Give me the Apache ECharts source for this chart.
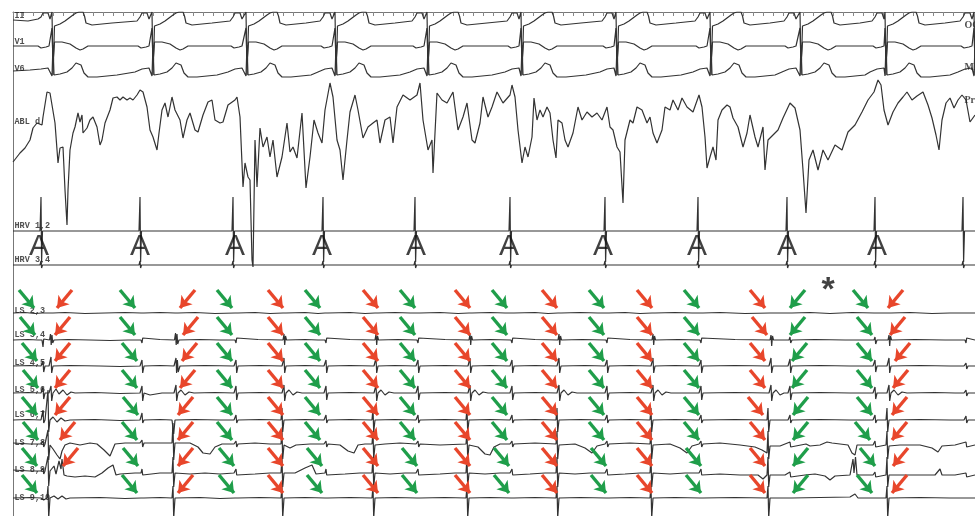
<!DOCTYPE html>
<html><head><meta charset="utf-8">
<script src="https://cdn.jsdelivr.net/npm/echarts@6/dist/echarts.min.js"></script>
<style>html,body{margin:0;padding:0;background:#fff}#c{width:975px;height:516px}</style>
</head><body><div id="c"></div>
<script>
// ---------- DATA (time, amplitude above channel baseline) ----------
const channelNames = ['II','V1','V6','ABL d','HRV 1,2','HRV 3,4','LS 2,3','LS 3,4','LS 4,5','LS 5,6','LS 6,7','LS 7,8','LS 8,9','LS 9,10'];
const rightNames = ['OC','MA','Prox'];
const atrialLabelTimes = [39,140,235,322,416,509,603,697,787,877];
const asteriskTime = [828];

const traceII = [
[13,0],[28,-1],[38,1],[41,3],[43,7],[48,7],[50,1],
[52,8],[53,-55],[54.5,-6],[60,-4],[65,-1],[69,2],[73,5],[76,7],[79,8],[83,8],[84.5,4],[86,-3],[92,-5],[112,-3],[137,-1],[140,3],[142,7],[147,7],[149,1],
[152,8],[153,-55],[154.5,-6],[160,-4],[165,-1],[169,2],[173,5],[176,7],[179,8],[183,8],[184.5,4],[186,-3],[192,-5],[212,-3],[230,-1],[233,3],[235,7],[240,7],[242,1],
[246,8],[247,-55],[248.5,-6],[254,-4],[259,-1],[263,2],[267,5],[270,7],[273,8],[277,8],[278.5,4],[280,-3],[286,-5],[306,-3],[320,-1],[323,3],[325,7],[330,7],[332,1],
[335,8],[336,-55],[337.5,-6],[343,-4],[348,-1],[352,2],[356,5],[359,7],[362,8],[366,8],[367.5,4],[369,-3],[375,-5],[395,-3],[412,-1],[415,3],[417,7],[422,7],[424,1],
[427,8],[428,-55],[429.5,-6],[435,-4],[440,-1],[444,2],[448,5],[451,7],[454,8],[458,8],[459.5,4],[461,-3],[467,-5],[487,-3],[507,-1],[510,3],[512,7],[517,7],[519,1],
[521,8],[522,-55],[523.5,-6],[529,-4],[534,-1],[538,2],[542,5],[545,7],[548,8],[552,8],[553.5,4],[555,-3],[561,-5],[581,-3],[602,-1],[605,3],[607,7],[612,7],[614,1],
[616,8],[617,-55],[618.5,-6],[624,-4],[629,-1],[633,2],[637,5],[640,7],[643,8],[647,8],[648.5,4],[650,-3],[656,-5],[676,-3],[695,-1],[698,3],[700,7],[705,7],[707,1],
[710,8],[711,-55],[712.5,-6],[718,-4],[723,-1],[727,2],[731,5],[734,7],[737,8],[741,8],[742.5,4],[744,-3],[750,-5],[770,-3],[784,-1],[787,3],[789,7],[794,7],[796,1],
[800,8],[801,-55],[802.5,-6],[808,-4],[813,-1],[817,2],[821,5],[824,7],[827,8],[831,8],[832.5,4],[834,-3],[840,-5],[860,-3],[872,-1],[875,3],[877,7],[882,7],[884,1],
[885,8],[886,-55],[887.5,-6],[893,-4],[898,-1],[902,2],[906,5],[909,7],[912,8],[916,8],[917.5,4],[919,-3],[925,-5],[945,-3],[960,-1],[963,3],[965,7],[970,7],[972,1],
[974,8],[975,-55]];

const traceV1 = [
[13,-1],[38,-1],[41,-3],[43,-5],[46,-2],[49,-1],
[52,17],[53,-18],[54.5,3],[62,3],[70,1],[76,-3],[80,-5],[83,-4],[88,-1],[102,-1],[138,-1],[141,-3],[143,-5],[146,-2],[149,-1],
[152,17],[153,-18],[154.5,3],[162,3],[170,1],[176,-3],[180,-5],[183,-4],[188,-1],[202,-1],[231,-1],[234,-3],[236,-5],[239,-2],[242,-1],
[246,17],[247,-18],[248.5,3],[256,3],[264,1],[270,-3],[274,-5],[277,-4],[282,-1],[296,-1],[321,-1],[324,-3],[326,-5],[329,-2],[332,-1],
[335,17],[336,-18],[337.5,3],[345,3],[353,1],[359,-3],[363,-5],[366,-4],[371,-1],[385,-1],[413,-1],[416,-3],[418,-5],[421,-2],[424,-1],
[427,17],[428,-18],[429.5,3],[437,3],[445,1],[451,-3],[455,-5],[458,-4],[463,-1],[477,-1],[508,-1],[511,-3],[513,-5],[516,-2],[519,-1],
[521,17],[522,-18],[523.5,3],[531,3],[539,1],[545,-3],[549,-5],[552,-4],[557,-1],[571,-1],[603,-1],[606,-3],[608,-5],[611,-2],[614,-1],
[616,17],[617,-18],[618.5,3],[626,3],[634,1],[640,-3],[644,-5],[647,-4],[652,-1],[666,-1],[696,-1],[699,-3],[701,-5],[704,-2],[707,-1],
[710,17],[711,-18],[712.5,3],[720,3],[728,1],[734,-3],[738,-5],[741,-4],[746,-1],[760,-1],[785,-1],[788,-3],[790,-5],[793,-2],[796,-1],
[800,17],[801,-18],[802.5,3],[810,3],[818,1],[824,-3],[828,-5],[831,-4],[836,-1],[850,-1],[873,-1],[876,-3],[878,-5],[881,-2],[884,-1],
[885,17],[886,-18],[887.5,3],[895,3],[903,1],[909,-3],[913,-5],[916,-4],[921,-1],[935,-1],[961,-1],[964,-3],[966,-5],[969,-2],[972,-1],
[974,17],[975,-18]];

const traceV6 = [
[13,-1],[30,0],[41,1],[48,2],
[52,-6],[53,25],[54,-5],[60,-4],[67,-2],[72,2],[76,7],[78,8],[81,5],[84,-3],[88,-7],[97,-7],[117,-5],[135,-2],[142,1],[149,2],
[152,-6],[153,25],[154,-5],[160,-4],[167,-2],[172,2],[176,7],[178,8],[181,5],[184,-3],[188,-7],[197,-7],[217,-5],[228,-2],[235,1],[242,2],
[246,-6],[247,25],[248,-5],[254,-4],[261,-2],[266,2],[270,7],[272,8],[275,5],[278,-3],[282,-7],[291,-7],[311,-5],[318,-2],[325,1],[332,2],
[335,-6],[336,25],[337,-5],[343,-4],[350,-2],[355,2],[359,7],[361,8],[364,5],[367,-3],[371,-7],[380,-7],[400,-5],[410,-2],[417,1],[424,2],
[427,-6],[428,25],[429,-5],[435,-4],[442,-2],[447,2],[451,7],[453,8],[456,5],[459,-3],[463,-7],[472,-7],[492,-5],[505,-2],[512,1],[519,2],
[521,-6],[522,25],[523,-5],[529,-4],[536,-2],[541,2],[545,7],[547,8],[550,5],[553,-3],[557,-7],[566,-7],[586,-5],[600,-2],[607,1],[614,2],
[616,-6],[617,25],[618,-5],[624,-4],[631,-2],[636,2],[640,7],[642,8],[645,5],[648,-3],[652,-7],[661,-7],[681,-5],[693,-2],[700,1],[707,2],
[710,-6],[711,25],[712,-5],[718,-4],[725,-2],[730,2],[734,7],[736,8],[739,5],[742,-3],[746,-7],[755,-7],[775,-5],[782,-2],[789,1],[796,2],
[800,-6],[801,25],[802,-5],[808,-4],[815,-2],[820,2],[824,7],[826,8],[829,5],[832,-3],[836,-7],[845,-7],[865,-5],[870,-2],[877,1],[884,2],
[885,-6],[886,25],[887,-5],[893,-4],[900,-2],[905,2],[909,7],[911,8],[914,5],[917,-3],[921,-7],[930,-7],[950,-5],[958,-2],[965,1],[972,2],
[974,-6],[975,25]];

const traceABL = [
[13,-62],[20,-53],[25,-48],[30,-40],[33,-28],[37,-23],[42,-25],[43,-17],[47,8],[50,7],[55,-23],[58,-63],[60,-48],[63,-47],[65,-90],[67,-125],[68,-90],[70,-50],[73,-33],[75,-27],[78,-13],[80,-22],[82,-15],[83,-33],[87,-28],[90,-20],[93,-17],[97,-27],[100,-45],[102,-40],[105,-23],[110,-10],[113,2],[117,3],[120,0],[123,3],[127,0],[130,2],[133,0],[137,5],[140,10],[143,8],[147,-7],[150,-30],[153,-37],[157,-50],[159,-33],[162,-10],[165,-3],[168,-17],[172,3],[175,-10],[180,-20],[183,-38],[187,-20],[190,-13],[195,-30],[198,-32],[203,-15],[208,-2],[212,0],[215,-20],[220,-23],[223,-22],[228,-5],[235,0],[237,3],[240,-17],[243,-87],[245,-63],[248,-77],[250,-80],[252,-160],[253,-167],[255,-40],[257,-87],[260,-28],[263,-47],[267,-37],[270,-57],[273,-40],[277,-77],[282,-57],[287,-23],[290,-52],[293,-47],[297,-58],[302,-13],[306,-88],[310,-57],[314,-20],[318,-33],[322,-43],[325,-10],[330,17],[333,3],[337,-40],[340,-50],[343,-80],[347,-40],[350,-12],[355,5],[358,-10],[363,-38],[368,-27],[373,-23],[377,-20],[380,-43],[385,-20],[390,-17],[393,-43],[397,-7],[403,5],[410,0],[417,5],[420,17],[423,-20],[428,-50],[432,-40],[433,-73],[437,7],[442,0],[447,-3],[453,8],[458,-30],[463,-17],[467,-3],[472,-40],[475,-43],[480,-23],[483,3],[488,-17],[492,-7],[497,8],[503,-3],[510,5],[512,15],[515,3],[518,-30],[522,-63],[525,-47],[528,-57],[532,-37],[534,2],[537,-20],[540,-10],[543,-17],[547,-7],[550,-13],[553,-40],[556,-58],[558,-20],[562,-23],[565,-40],[568,-47],[573,-33],[578,-7],[582,-20],[587,-12],[592,-17],[597,-13],[602,-20],[607,-7],[610,-27],[613,-30],[617,-47],[620,-52],[623,-103],[625,-40],[630,-20],[633,-23],[637,-7],[642,-10],[647,-23],[650,-17],[653,-33],[657,-43],[662,-30],[665,-7],[670,-10],[673,0],[678,-10],[682,2],[687,-7],[693,-12],[699,5],[702,-7],[705,-37],[707,-68],[710,-57],[713,-47],[716,-60],[718,-20],[722,-10],[727,-5],[730,-7],[733,-18],[738,-27],[743,-47],[747,-33],[750,-15],[755,-37],[758,-47],[763,-27],[765,-70],[768,-40],[773,-35],[778,-30],[783,-18],[790,-3],[795,-8],[800,-30],[803,-70],[806,-113],[809,-60],[813,-50],[818,-70],[823,-50],[828,-60],[835,-45],[842,-50],[848,-32],[855,-25],[862,-12],[868,0],[874,8],[878,20],[881,15],[884,-10],[888,-25],[893,-12],[898,-3],[903,3],[907,8],[912,0],[917,4],[923,8],[928,-5],[932,-18],[936,-35],[939,-50],[942,-20],[946,-3],[950,2],[954,-8],[958,0],[962,5],[966,0],[970,-22],[975,-15]];

const traceHRV12 = [
[13,0],[40,0],[41,34],[41.6,-31],[42.5,0],[52,0],[53,1.5],[54,-1],[55,0],
[139,0],[140,34],[140.6,-31],[141.5,0],[151,0],[152,1.5],[153,-1],[154,0],
[232,0],[233,34],[233.6,-31],[234.5,0],[244,0],[245,1.5],[246,-1],[247,0],
[322,0],[323,34],[323.6,-31],[324.5,0],[334,0],[335,1.5],[336,-1],[337,0],
[414,0],[415,34],[415.6,-31],[416.5,0],[426,0],[427,1.5],[428,-1],[429,0],
[509,0],[510,34],[510.6,-31],[511.5,0],[521,0],[522,1.5],[523,-1],[524,0],
[604,0],[605,34],[605.6,-31],[606.5,0],[616,0],[617,1.5],[618,-1],[619,0],
[697,0],[698,34],[698.6,-31],[699.5,0],[709,0],[710,1.5],[711,-1],[712,0],
[786,0],[787,34],[787.6,-31],[788.5,0],[798,0],[799,1.5],[800,-1],[801,0],
[874,0],[875,34],[875.6,-31],[876.5,0],[886,0],[887,1.5],[888,-1],[889,0],
[962,0],[963,34],[963.6,-31],[964.5,0],[975,0]];

const traceHRV34 = [
[13,0],[40,0],[41,4],[41.6,-3],[42.5,0],[52,0],[53,-2],[54,1],[55,0],
[139,0],[140,4],[140.6,-3],[141.5,0],[151,0],[152,-2],[153,1],[154,0],
[232,0],[233,4],[233.6,-3],[234.5,0],[244,0],[245,-2],[246,1],[247,0],
[322,0],[323,4],[323.6,-3],[324.5,0],[334,0],[335,-2],[336,1],[337,0],
[414,0],[415,4],[415.6,-3],[416.5,0],[426,0],[427,-2],[428,1],[429,0],
[509,0],[510,4],[510.6,-3],[511.5,0],[521,0],[522,-2],[523,1],[524,0],
[604,0],[605,4],[605.6,-3],[606.5,0],[616,0],[617,-2],[618,1],[619,0],
[697,0],[698,4],[698.6,-3],[699.5,0],[709,0],[710,-2],[711,1],[712,0],
[786,0],[787,4],[787.6,-3],[788.5,0],[798,0],[799,-2],[800,1],[801,0],
[874,0],[875,4],[875.6,-3],[876.5,0],[886,0],[887,-2],[888,1],[889,0],
[962,0],[963,4],[963.6,-3],[964.5,0],[975,0]];

const traceLS23 = [
[13,0],[25,0.5],[35,-0.5],[42,0],[43,-2],[43.7,1],[45,0],[50,0],[51,2],[51.7,-2],[53,0],[65,0.5],[85,-0.5],[105,0],[125,0.5],[141,0],[142,-2],[142.7,1.5],[144,0],[160,0.5],[175,0],[176,2],[176.7,-1.5],[178,0],[195,0.5],[215,-0.5],[235,0],[236,-2],[236.7,1.5],[238,0],[255,0.5],[270,-0.5],[283,0],[284,2],[284.7,-2],[286,0],[305,0.5],[318,-0.5],[325,0],[326,-2],[326.7,1.5],[328,0],[350,0.5],[365,-0.5],[375,0],[376,2],[376.7,-2],[378,0],[395,0.5],[410,0],[417,0],[418,-2],[418.7,1.5],[420,0],[440,0.5],[458,-0.5],[469,0],[470,2],[470.7,-2],[472,0],[490,0.5],[505,0],[511,0],[512,-2],[512.7,1.5],[514,0],[535,0.5],[548,-0.5],[558,0],[559,2],[559.7,-2],[561,0],[580,0.5],[598,0],[606,0],[607,-2],[607.7,1.5],[609,0],[625,0.5],[640,-0.5],[652,0],[653,2],[653.7,-2],[655,0],[675,0.5],[692,0],[700,0],[701,-2],[701.7,1.5],[703,0],[720,0.5],[745,-0.5],[770,0],[771,2],[771.7,-2],[773,0],[789,0],[790,-2],[790.7,1.5],[792,0],[810,0.5],[830,-0.5],[852,0.5],[874,0],[875,-2],[875.7,1.5],[877,0],[888,0],[889,2],[889.7,-2],[891,0],[910,0.5],[932,-0.5],[950,0],[965,0],[966,-2],[966.7,1.5],[968,0],[975,0]];

const traceLS34 = [
[13,0],[28,0.5],[38,0],[42,0],[43,-7],[43.7,1],[45,0],[49.5,0],[50.5,6],[51.2,-5],[52,5],[52.7,-3],[54,0],[68,0.5],[90,0],[110,-0.5],[128,0],[141,0],[142,-3],[142.7,2],[144,0],[160,0.5],[174.5,0],[175.5,7],[176.2,-5],[177,6],[177.7,-4],[179,0],[200,0.5],[220,0],[235,0],[236,-3],[236.7,2],[238,0],[258,0.5],[283,0],[284,6],[284.7,-5],[285.5,4],[286.5,0],[305,0.5],[318,0],[325,0],[326,-3],[326.7,2],[328,0],[350,0.5],[375,0],[376,6],[376.7,-5],[377.5,4],[378.5,0],[398,0.5],[417,0],[418,-3],[418.7,2],[420,0],[445,0.5],[469,0],[470,6],[470.7,-5],[471.5,4],[472.5,0],[490,0.5],[511,0],[512,-3],[512.7,2],[514,0],[535,0.5],[558,0],[559,6],[559.7,-5],[560.5,4],[561.5,0],[582,0.5],[606,0],[607,-3],[607.7,2],[609,0],[630,0.5],[652,0],[653,6],[653.7,-5],[654.5,4],[655.5,0],[678,0.5],[700,0],[701,-3],[701.7,2],[703,0],[735,0.5],[770,0],[771,5],[771.7,-6],[772.5,4],[773.5,0],[789,0],[790,3],[790.7,-3],[792,0],[815,0.5],[845,0],[874,0],[875,3],[875.7,-4],[877,0],[888,0],[889,5],[889.7,-6],[890.5,4],[891.5,0],[915,0.5],[945,0],[965,0],[966,-3],[966.7,2],[968,0],[975,0]];

const traceLS45 = [
[13,0],[30,0.5],[41,0],[43,5],[43.7,-6],[45,0],[49,0],[51,9],[51.7,-7],[53,0],[70,0.5],[100,0],[120,-0.5],[140,0],[142,6],[142.7,-7],[144,0],[160,0.5],[174,0],[176,8],[176.6,-7],[177.4,6],[178.2,-6],[180,0],[205,0.5],[234,0],[236,6],[236.7,-7],[238,0],[260,0.5],[282,0],[284,8],[284.7,-7],[286,0],[305,0.5],[324,0],[326,6],[326.7,-7],[328,0],[350,0.5],[374,0],[376,8],[376.7,-7],[378,0],[395,0.5],[416,0],[418,6],[418.7,-7],[420,0],[445,0.5],[468,0],[470,8],[470.7,-7],[472,0],[490,0.5],[510,0],[512,6],[512.7,-7],[514,0],[535,0.5],[557,0],[559,8],[559.7,-7],[561,0],[585,0.5],[605,0],[607,6],[607.7,-7],[609,0],[630,0.5],[651,0],[653,8],[653.7,-7],[655,0],[675,0.5],[699,0],[701,6],[701.7,-7],[703,0],[735,0.5],[769,0],[771,8],[771.7,-7],[773,0],[788,0],[790,7],[790.7,-7],[792,0],[820,0.5],[850,0],[873,0],[875,6],[875.7,-6],[877,0],[887,0],[889,8],[889.7,-7],[891,0],[920,0.5],[950,0],[964,0],[966,3],[966.7,-3],[968,0],[975,0]];

const traceLS56 = [
[13,0],[28,0.5],[41,0],[43,6],[43.7,-6],[45,0],[49,0],[51,7],[51.7,-8],[53,0],[56,4],[59,-1],[63,3],[67,-2],[71,1],[75,0],[95,0.5],[120,-0.5],[140,0],[142,7],[142.7,-8],[144,0],[150,-2],[156,-1],[162,0],[174,0],[176,8],[176.7,-8],[178,0],[181,3],[185,-2],[189,1],[194,0],[215,0.5],[234,0],[236,7],[236.7,-7],[238,0],[260,0.5],[282,0],[284,8],[284.7,-8],[286,0],[289,3],[293,-2],[297,1],[302,0],[324,0],[326,7],[326.7,-7],[328,0],[350,0.5],[374,0],[376,8],[376.7,-8],[378,0],[381,3],[385,-2],[389,1],[394,0],[416,0],[418,7],[418.7,-7],[420,0],[445,0.5],[468,0],[470,8],[470.7,-8],[472,0],[475,3],[479,-2],[483,1],[488,0],[510,0],[512,7],[512.7,-7],[514,0],[535,0.5],[557,0],[559,8],[559.7,-8],[561,0],[564,3],[568,-2],[572,1],[577,0],[605,0],[607,7],[607.7,-7],[609,0],[630,0.5],[651,0],[653,8],[653.7,-8],[655,0],[658,3],[662,-2],[666,1],[671,0],[699,0],[701,7],[701.7,-7],[703,0],[735,0.5],[769,0],[771,8],[771.7,-8],[773,0],[776,3],[780,-2],[784,0],[788,0],[790,7],[790.7,-7],[792,0],[820,0.5],[850,0],[873,0],[875,6],[875.7,-6],[877,0],[887,0],[889,8],[889.7,-8],[891,0],[894,3],[898,-2],[902,1],[907,0],[935,0.5],[955,0],[964,0],[966,3],[966.7,-3],[968,0],[975,0]];

const traceLS67 = [
[13,0],[28,0.5],[41,0],[43,10],[43.7,-3],[45,0],[47,0],[48,30],[48.7,-12],[50,0],[53,3],[57,-2],[61,2],[65,-1],[70,0],[95,0.5],[120,-0.5],[140,0],[142,7],[142.7,-3],[144,0],[160,0.5],[172,0],[173,2],[173.7,-14],[175,0],[195,0.5],[220,0],[234,0],[236,5],[236.7,-3],[238,0],[260,0.5],[281,0],[282,12],[282.7,-12],[284,0],[305,0.5],[324,0],[326,5],[326.7,-3],[328,0],[350,0.5],[372,0],[373,12],[373.7,-12],[375,0],[395,0.5],[416,0],[418,5],[418.7,-3],[420,0],[445,0.5],[466,0],[467,12],[467.7,-12],[469,0],[490,0.5],[510,0],[512,5],[512.7,-3],[514,0],[535,0.5],[556,0],[557,12],[557.7,-12],[559,0],[580,0.5],[605,0],[607,5],[607.7,-3],[609,0],[630,0.5],[650,0],[651,12],[651.7,-12],[653,0],[675,0.5],[699,0],[701,5],[701.7,-3],[703,0],[735,0.5],[767,0],[768,12],[768.7,-12],[770,0],[788,0],[790,5],[790.7,-3],[792,0],[820,0.5],[850,0],[873,0],[875,5],[875.7,-3],[877,0],[886,0],[887,12],[887.7,-12],[889,0],[920,0.5],[950,0],[964,0],[966,4],[966.7,-3],[968,0],[975,0]];

const traceLS78 = [
[13,2],[30,1],[41,1],[43,4],[43.7,-2],[45,1],[47,1],[48,15],[48.7,-15],[50,0],[53,-4],[57,-10],[60,-14],[62,-6],[65,0],[70,2],[80,0],[90,2],[97,1],[104,-5],[110,-11],[112,-13],[115,1],[125,2],[140,2],[142,5],[142.7,-2],[144,2],[160,2],[172,2],[173,22],[173.7,-15],[175,2],[190,2],[198,-2],[203,-8],[210,-9],[215,-2],[222,1],[234,1],[236,4],[236.7,-2],[238,1],[255,2],[270,1],[281,1],[282,14],[282.7,-14],[284,0],[290,-3],[296,0],[310,1],[324,1],[326,4],[326.7,-2],[328,1],[340,0],[348,-6],[354,-8],[358,0],[365,1],[372,1],[373,14],[373.7,-14],[375,0],[385,1],[400,2],[416,1],[418,4],[418.7,-2],[420,1],[440,0],[466,1],[467,14],[467.7,-14],[469,0],[478,-2],[485,-9],[490,-10],[494,-2],[500,1],[510,1],[512,4],[512.7,-2],[514,1],[535,2],[556,1],[557,14],[557.7,-14],[559,0],[575,1],[585,-3],[592,-8],[597,-1],[605,1],[607,4],[607.7,-2],[609,1],[630,2],[650,1],[651,14],[651.7,-14],[653,0],[670,1],[680,-3],[687,-8],[692,-1],[699,1],[701,4],[701.7,-2],[703,1],[720,2],[740,0],[755,-2],[762,-5],[767,-8],[768,14],[768.7,-14],[770,-1],[780,-1],[790,3],[790.7,-2],[792,-1],[806,1],[810,-1],[820,0],[827,3],[832,2],[840,1],[848,0],[852,-8],[855,-10],[857,0],[865,0],[873,0],[875,4],[875.7,-2],[877,0],[886,0],[887,14],[887.7,-14],[889,-1],[900,0],[920,0],[932,-3],[938,-7],[942,-1],[955,0],[966,3],[966.7,-2],[968,0],[975,0]];

const traceLS89 = [
[13,1],[30,0],[41,0],[43,3],[43.7,-3],[45,0],[47,0],[48,15],[48.7,-15],[50,0],[54,5],[56,-3],[59,10],[61,2],[62,12],[64,-4],[67,-5],[75,-6],[85,-5],[95,-6],[102,-2],[108,3],[113,6],[116,-4],[120,-3],[135,-2],[141,-2],[142,2],[142.7,-4],[144,-2],[160,-2],[172,-2],[173,14],[173.7,-16],[175,-2],[190,-3],[205,-2],[220,-3],[234,-2],[236,2],[236.7,-4],[238,-2],[255,-3],[270,-2],[281,-2],[282,14],[282.7,-16],[284,-2],[295,-2],[305,3],[312,6],[316,-3],[325,-2],[326,2],[326.7,-4],[328,-2],[345,-3],[360,-2],[372,-2],[373,14],[373.7,-16],[375,-2],[390,-3],[405,-2],[416,-2],[418,2],[418.7,-4],[420,-2],[440,-3],[455,-2],[466,-2],[467,14],[467.7,-16],[469,-2],[485,-3],[500,-2],[510,-2],[512,2],[512.7,-4],[514,-2],[530,-3],[545,-2],[556,-2],[557,14],[557.7,-16],[559,-2],[575,-3],[590,-2],[605,-2],[607,2],[607.7,-4],[609,-2],[625,-3],[640,-2],[650,-2],[651,14],[651.7,-16],[653,-2],[670,-3],[685,-2],[699,-2],[701,2],[701.7,-4],[703,-2],[720,-3],[740,-4],[758,-4],[763,-8],[767,-4],[768,14],[768.7,-16],[770,-4],[785,-4],[790,-1],[790.7,-6],[792,-4],[805,-4],[815,-3],[825,-5],[830,-9],[835,-5],[850,-4],[853,12],[854,-2],[855.5,14],[857,-4],[866,-4],[873,-4],[875,-1],[875.7,-6],[877,-4],[886,-4],[887,14],[887.7,-16],[889,-4],[910,-4],[935,-4],[940,2],[942,-4],[955,-4],[966,-2],[966.7,-6],[968,-4],[975,-4]];

const traceLS910 = [
[13,0],[30,0.5],[41,0],[43,2],[43.7,-2],[45,0],[47,0],[48,12],[48.7,-20],[50,0],[54,2],[58,-1],[62,2],[66,-1],[70,0],[100,0.5],[125,-0.5],[141,0],[142,2],[142.7,-2],[144,0],[160,0.5],[172,0],[173,12],[173.7,-20],[175,0],[200,0.5],[220,-0.5],[235,0],[236,2],[236.7,-2],[238,0],[260,0.5],[281,0],[282,12],[282.7,-20],[284,0],[305,0.5],[325,0],[326,2],[326.7,-2],[328,0],[350,0.5],[372,0],[373,12],[373.7,-20],[375,0],[395,0.5],[417,0],[418,2],[418.7,-2],[420,0],[445,0.5],[466,0],[467,12],[467.7,-20],[469,0],[490,0.5],[511,0],[512,2],[512.7,-2],[514,0],[535,0.5],[556,0],[557,12],[557.7,-20],[559,0],[580,0.5],[606,0],[607,2],[607.7,-2],[609,0],[630,0.5],[650,0],[651,12],[651.7,-20],[653,0],[675,0.5],[700,0],[701,2],[701.7,-2],[703,0],[735,0.5],[767,0],[768,12],[768.7,-20],[770,0],[789,0],[790,2],[790.7,-2],[792,0],[820,0.5],[850,1],[855,4],[858,0],[874,0],[875,2],[875.7,-2],[877,0],[886,0],[887,12],[887.7,-20],[889,0],[920,0.5],[950,0],[965,0],[966,2],[966.7,-2],[968,0],[975,0]];

// arrow targets per LS row: [tip time, direction (1 = pointing down-right, -1 = down-left)]
const greenArrowTips = [
 [[34,1],[135,1],[232,1],[320,1],[415,1],[507,1],[604,1],[699,1],[790,-1],[868,1]],
 [[35,1],[135,1],[232,1],[320,1],[415,1],[507,1],[604,1],[699,1],[790,-1],[872,1]],
 [[37,1],[137,1],[232,1],[320,1],[415,1],[507,1],[604,1],[699,1],[792,-1],[872,1]],
 [[38,1],[137,1],[232,1],[320,1],[415,1],[507,1],[604,1],[699,1],[792,-1],[872,1]],
 [[37,1],[138,1],[232,1],[320,1],[415,1],[507,1],[604,1],[699,1],[793,-1],[872,1]],
 [[38,1],[137,1],[232,1],[320,1],[415,1],[507,1],[604,1],[699,1],[793,-1],[870,1]],
 [[37,1],[138,1],[234,1],[322,1],[417,1],[509,1],[606,1],[701,1],[793,-1],[875,1]],
 [[37,1],[137,1],[234,1],[322,1],[417,1],[509,1],[606,1],[701,1],[793,-1],[872,1]]];
const redArrowTips = [
 [[57,-1],[180,-1],[283,1],[378,1],[470,1],[557,1],[652,1],[765,1],[888,-1]],
 [[55,-1],[183,-1],[283,1],[378,1],[470,1],[557,1],[652,1],[767,1],[890,-1]],
 [[55,-1],[182,-1],[283,1],[378,1],[470,1],[557,1],[652,1],[765,1],[895,-1]],
 [[55,-1],[180,-1],[283,1],[378,1],[470,1],[557,1],[652,1],[765,1],[893,-1]],
 [[55,-1],[178,-1],[283,1],[378,1],[470,1],[557,1],[652,1],[763,1],[892,-1]],
 [[60,-1],[178,-1],[283,1],[378,1],[470,1],[557,1],[652,1],[765,1],[892,-1]],
 [[63,-1],[178,-1],[283,1],[378,1],[470,1],[557,1],[652,1],[765,1],[893,-1]],
 [[178,-1],[283,1],[378,1],[470,1],[557,1],[652,1],[765,1],[892,-1]]];

// ---------- LAYOUT / STYLE ----------
const traces = [traceII,traceV1,traceV6,traceABL,traceHRV12,traceHRV34,traceLS23,traceLS34,traceLS45,traceLS56,traceLS67,traceLS78,traceLS89,traceLS910];
const baselines = [20,45,70,100,231,265,313,340,366,393,420,445,471,498];
const labelCenters = [15.5,42,69,122,225.5,260,310.5,335,362.5,389.5,414.5,442.5,469.5,497.5];
const rightLabelCenters = [25,67,100];
const lsFirstRow = 6;
const ARROW_DX = 15, ARROW_TIP = 5, ARROW_TAIL = 23;
const HIDDEN = 'rgba(0,0,0,0)';

const series = traces.map((tr, i) => ({
  type: 'line', name: channelNames[i],
  data: tr.map(p => [p[0], p[1] - baselines[i]]),
  symbol: 'none', showSymbol: false, clip: true, silent: true, animation: false,
  lineStyle: { color: '#333', width: 1.2 }, z: 2
}));

function arrowSeries(tips, color) {
  const data = [];
  tips.forEach((row, r) => {
    const base = baselines[lsFirstRow + r];
    row.forEach(([t, dir]) => {
      data.push({ coords: [[t - dir * ARROW_DX, -(base - ARROW_TAIL)], [t, -(base - ARROW_TIP)]] });
    });
  });
  return { type: 'lines', coordinateSystem: 'cartesian2d', silent: true, animation: false, z: 6,
    symbol: ['none', 'arrow'], symbolSize: 11,
    lineStyle: { color: color, width: 3.4, opacity: 1, curveness: 0 }, data: data };
}
series.push(arrowSeries(greenArrowTips, '#1f9e4a'));
series.push(arrowSeries(redArrowTips, '#e8462b'));

function textSeries(items, labelStyle, z) {
  return { type: 'scatter', silent: true, animation: false, symbol: 'circle', symbolSize: 1, clip: false, z: z,
    itemStyle: { color: HIDDEN },
    data: items, label: Object.assign({ show: true, formatter: '{b}' }, labelStyle) };
}
series.push(textSeries(channelNames.map((n, i) => ({ name: n, value: [13, -labelCenters[i]] })),
  { position: 'right', distance: 1, fontFamily: 'Liberation Mono', fontSize: 8.5, fontWeight: 'bold', color: '#222' }, 5));
series.push(textSeries(rightNames.map((n, i) => ({ name: n, value: [963, -rightLabelCenters[i]] })),
  { position: 'right', distance: 1, fontFamily: 'Liberation Serif', fontSize: 10, fontWeight: 'bold', color: '#222' }, 5));
series.push(textSeries(atrialLabelTimes.map(t => ({ name: 'A', value: [t, -247] })),
  { position: 'inside', fontFamily: 'Liberation Sans', fontSize: 30, color: '#111' }, 7));
series.push(textSeries(asteriskTime.map(t => ({ name: '*', value: [t, -291] })),
  { position: 'inside', fontFamily: 'Liberation Sans', fontSize: 34, fontWeight: 'bold', color: '#111' }, 7));

const option = {
  backgroundColor: '#fff', animation: false,
  grid: { left: 13, right: 0, top: 12, bottom: 0, containLabel: false },
  xAxis: [
    { type: 'value', min: 13, max: 975, show: false },
    { type: 'value', position: 'top', min: 0, max: 962, interval: 10,
      axisLine: { show: true, onZero: false, lineStyle: { color: '#777', width: 1 } },
      axisTick: { show: true, inside: true, length: 4, lineStyle: { color: '#888' } },
      axisLabel: { show: false }, splitLine: { show: false } }
  ],
  yAxis: { type: 'value', min: -516, max: -12,
    axisLine: { show: true, onZero: false, lineStyle: { color: '#777', width: 1 } },
    axisTick: { show: false }, axisLabel: { show: false }, splitLine: { show: false } },
  series: series
};
const chart = echarts.init(document.getElementById('c'));
chart.setOption(option);
</script></body></html>
